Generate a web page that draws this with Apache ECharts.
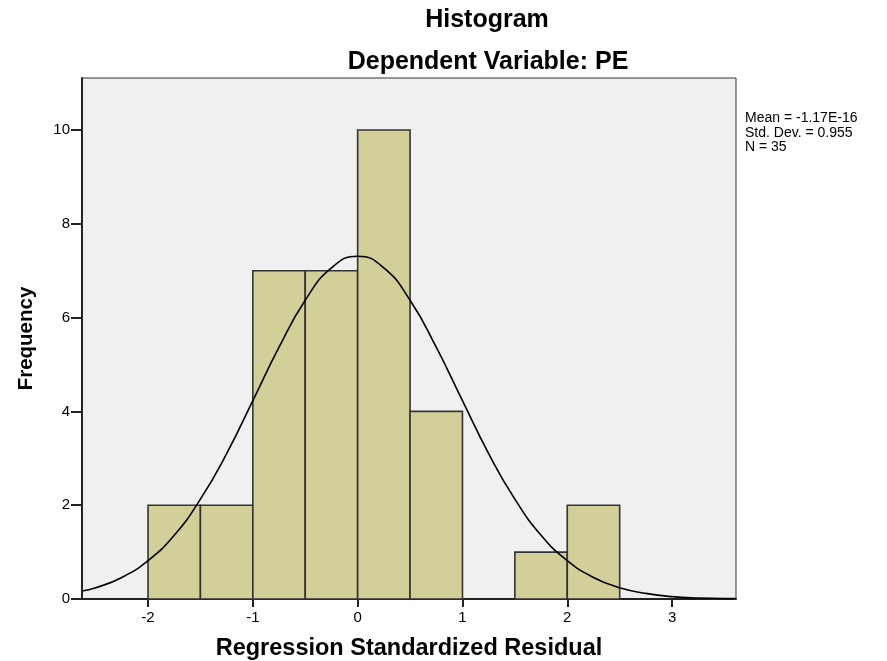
<!DOCTYPE html>
<html>
<head>
<meta charset="utf-8">
<script src="https://cdn.jsdelivr.net/npm/echarts@6/dist/echarts.min.js"></script>
<style>html,body{margin:0;padding:0;background:#fff}#c{width:887px;height:661px}</style>
</head>
<body>
<div id="c"></div>
<script>
// Histogram bins: [start, end]
const binStarts = [-2.0, -1.5, -1.0, -0.5, 0.0, 0.5, 1.0, 1.5, 2.0];
const binEnds   = [-1.5, -1.0, -0.5, 0.0, 0.5, 1.0, 1.5, 2.0, 2.5];
const binCounts = [2, 2, 7, 7, 10, 4, 0, 1, 2];
// Normal curve points
const curveX = [-2.63, -2.5, -2.25, -2.0, -1.75, -1.5, -1.25, -1.0, -0.75, -0.5, -0.25, 0.0, 0.25, 0.5, 0.75, 1.0, 1.25, 1.5, 1.75, 2.0, 2.25, 2.5, 2.75, 3.0, 3.25, 3.5, 3.61];
const curveY = [0.17, 0.24, 0.46, 0.82, 1.36, 2.13, 3.10, 4.23, 5.37, 6.37, 7.06, 7.31, 7.06, 6.37, 5.37, 4.23, 3.10, 2.13, 1.36, 0.82, 0.46, 0.24, 0.12, 0.05, 0.02, 0.01, 0.01];
const xTicks = [-2, -1, 0, 1, 2, 3];
const yTicks = [0, 2, 4, 6, 8, 10];
const statsLines = ['Mean = -1.17E-16', 'Std. Dev. = 0.955', 'N = 35'];

const chart = echarts.init(document.getElementById('c'), null, {renderer: 'canvas'});
const font = '"Liberation Sans", Arial, sans-serif';
const barData = binStarts.map((s, i) => [s, binEnds[i], binCounts[i]]).filter(d => d[2] > 0);
const curveData = curveX.map((x, i) => [x, curveY[i]]);

chart.setOption({
  animation: false,
  backgroundColor: '#ffffff',
  textStyle: {fontFamily: font},
  title: [
    {text: 'Histogram', left: 487, top: 8, padding: 0, textAlign: 'center',
     textStyle: {fontSize: 25, fontWeight: 'bold', color: '#000', fontFamily: font}},
    {text: 'Dependent Variable: PE', left: 488, top: 50, padding: 0, textAlign: 'center',
     textStyle: {fontSize: 25, fontWeight: 'bold', color: '#000', fontFamily: font}},
    {text: statsLines.join('\n'), left: 745, top: 111, padding: 0,
     textStyle: {fontSize: 14, fontWeight: 'normal', color: '#000', lineHeight: 14.5, fontFamily: font}}
  ],
  grid: {left: 82, right: 151, top: 78, bottom: 62, show: true, outerBoundsMode: 'none', containLabel: false,
         backgroundColor: '#f0f0f0', borderColor: '#333', borderWidth: 1},
  xAxis: {
    type: 'value', min: -2.63, max: 3.61,
    name: 'Regression Standardized Residual', nameLocation: 'middle', nameGap: 38,
    nameTextStyle: {fontSize: 23.5, fontWeight: 'bold', color: '#000', fontFamily: font},
    axisLine: {show: true, onZero: false, lineStyle: {color: '#222', width: 2}},
    axisTick: {show: true, length: 8, customValues: xTicks, lineStyle: {color: '#222', width: 2}},
    axisLabel: {customValues: xTicks, color: '#000', fontSize: 15, margin: 11, fontFamily: font},
    splitLine: {show: false}
  },
  yAxis: {
    type: 'value', min: 0, max: 11.11,
    name: 'Frequency', nameLocation: 'middle', nameGap: 45, nameRotate: 90,
    nameTextStyle: {fontSize: 20.5, fontWeight: 'bold', color: '#000', fontFamily: font},
    axisLine: {show: true, onZero: false, lineStyle: {color: '#222', width: 2}},
    axisTick: {show: true, length: 11, customValues: yTicks, lineStyle: {color: '#222', width: 2}},
    axisLabel: {customValues: yTicks, color: '#000', fontSize: 15, margin: 12, fontFamily: font},
    splitLine: {show: false}
  },
  series: [
    {
      type: 'custom',
      data: barData,
      renderItem: function (params, api) {
        const p0 = api.coord([api.value(0), api.value(2)]);
        const p1 = api.coord([api.value(1), 0]);
        return {
          type: 'rect',
          shape: {x: p0[0], y: p0[1], width: p1[0] - p0[0], height: p1[1] - p0[1]},
          style: {fill: '#d3cf98', stroke: '#333', lineWidth: 1.6}
        };
      },
      encode: {x: [0, 1], y: 2},
      z: 2
    },
    {
      type: 'line',
      data: curveData,
      smooth: true,
      showSymbol: false,
      symbol: 'none',
      lineStyle: {color: '#000', width: 1.6},
      z: 3
    }
  ]
});
</script>
</body>
</html>
